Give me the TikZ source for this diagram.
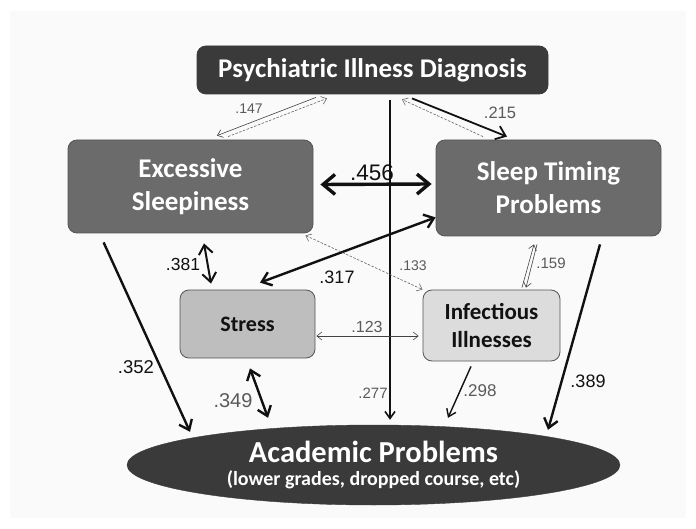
\documentclass[tikz,border=0pt]{standalone}
\usepackage{fontspec}
\setmainfont{Carlito}
\newfontfamily\numfont{Liberation Sans}
\usetikzlibrary{arrows.meta,calc,shapes.geometric}
\definecolor{ink}{HTML}{111111}
\definecolor{panel}{HTML}{FAFAFA}
\definecolor{darkbox}{HTML}{3A3A3A}
\definecolor{midbox}{HTML}{6B6B6B}
\definecolor{lightbox}{HTML}{BEBEBE}
\definecolor{paleb}{HTML}{DCDCDC}
\definecolor{rim}{HTML}{555555}
\definecolor{numgray}{HTML}{5A5A5A}
\tikzset{
  box/.style={draw=rim,line width=0.8pt,rounded corners=9pt,align=center,inner sep=0pt},
  topbox/.style={box,fill=darkbox,draw=darkbox,text=white,font=\fontsize{27}{30}\selectfont\bfseries},
  bigbox/.style={box,fill=midbox,text=white,font=\fontsize{27}{33}\selectfont\bfseries},
  smallbox/.style={box,fill=lightbox,text=ink,font=\fontsize{22}{28}\selectfont\bfseries},
  paleboxs/.style={smallbox,fill=paleb,font=\fontsize{23}{28}\selectfont\bfseries},
  outcome/.style={ellipse,fill=darkbox,draw=darkbox,text=white,align=center,inner sep=0pt},
  heavy/.style={line width=2.4pt,draw=ink,-{Straight Barb[length=9pt,width=14pt]}},
  heavyboth/.style={heavy,{Straight Barb[length=9pt,width=14pt]}-{Straight Barb[length=9pt,width=14pt]}},
  medium/.style={line width=1.4pt,draw=ink,-{Straight Barb[length=7pt,width=10pt]}},
  thin/.style={line width=0.6pt,draw=ink!80,-{Straight Barb[length=5pt,width=8pt]}},
  thinboth/.style={thin,{Straight Barb[length=5pt,width=8pt]}-{Straight Barb[length=5pt,width=8pt]}},
  faint/.style={thin,dashed,dash pattern=on 2.5pt off 1.5pt,draw=ink!65},
  faintboth/.style={thinboth,dashed,dash pattern=on 2.5pt off 1.5pt,draw=ink!65},
  bignum/.style={font=\numfont\fontsize{18}{20}\selectfont,text=ink},
  graynum/.style={font=\numfont\fontsize{16}{18}\selectfont,text=numgray}
}
\begin{document}
\begin{tikzpicture}[x=1pt,y=-1pt]
  \useasboundingbox (0,0) rectangle (696,529);
  \fill[panel] (10,11) rectangle (686,518);

  % boxes
  \node[topbox,minimum width=351pt,minimum height=48pt] (psych) at (372.5,70) {Psychiatric Illness Diagnosis};
  \node[bigbox,minimum width=245pt,minimum height=93pt] (sleepy) at (190.5,186.5) {Excessive\\Sleepiness};
  \node[bigbox,minimum width=225pt,minimum height=96pt] (timing) at (548.5,188) {Sleep Timing\\Problems};
  \node[smallbox,minimum width=135pt,minimum height=68pt] (stress) at (247.5,324) {Stress};
  \node[paleboxs,minimum width=137pt,minimum height=71pt] (infect) at (491.5,325.5) {Infectious\\Illnesses};
  \node[outcome,minimum width=493pt,minimum height=80pt] (academic) at (373.5,465)
    {{\fontsize{30.5}{32}\selectfont\bfseries Academic Problems}\\[6pt]{\fontsize{20}{22}\selectfont\bfseries (lower grades, dropped course, etc)}};

  % links to the diagnosis
  \draw[thin] ($(psych.south)+(-56.5,3)$) -- ($(sleepy.north)+(26.5,-4)$);
  \draw[faint] ($(sleepy.north)+(37.5,-3)$) -- ($(psych.south)+(-45.5,4)$);
  \draw[heavy,line width=1.8pt] ($(psych.south)+(39.5,4)$) -- ($(timing.north)+(-41.5,-3)$);
  \draw[faint] ($(timing.north)+(-65.5,-3)$) -- ($(psych.south)+(29.5,5)$);
  \draw[medium,line width=1.6pt] ($(psych.south)+(17.5,6)$) -- ($(academic.north)+(16.5,-5)$);

  % links between the middle boxes
  \draw[heavyboth,line width=3.4pt,{Straight Barb[length=12pt,width=20pt]}-{Straight Barb[length=12pt,width=20pt]}]
    ($(sleepy.east)+(7,-2)$) -- ($(timing.west)+(-4,-4)$);
  \draw[heavyboth,line width=2pt] ($(sleepy.south)+(13.5,10)$) -- ($(stress.north)+(-36.5,-6)$);
  \draw[heavyboth] ($(stress.north)+(12.5,-7)$) -- ($(timing.south west)+(0,-19)$);
  \draw[faintboth] ($(sleepy.south east)+(-8,2)$) -- ($(infect.north west)+(0,0)$);
  \draw[thin] ($(infect.north)+(30.5,-2)$) -- ($(timing.south)+(-14.5,8)$);
  \draw[thin] ($(timing.south)+(-11.5,8)$) -- ($(infect.north)+(34.5,-2)$);
  \draw[thinboth] ($(stress.east)+(1,12)$) -- ($(infect.west)+(-4,10.5)$);

  % links to the outcome
  \draw[heavy] ($(sleepy.south west)+(36,9)$) -- ($(academic.north)+(-183.5,7)$);
  \draw[heavyboth] ($(stress.south)+(2.5,10)$) -- ($(academic.north)+(-105.5,-7)$);
  \draw[medium] ($(infect.south)+(-20.5,5)$) -- ($(academic.north)+(74.5,-7)$);
  \draw[heavy] ($(timing.south)+(51.5,8)$) -- ($(academic.north)+(174.5,5)$);

  % path coefficients
  \node[graynum,font=\numfont\fontsize{14}{16}\selectfont] (n147) at (249,109) {.147};
  \node[graynum,font=\numfont\fontsize{16.5}{18}\selectfont] (n215) at (500,113) {.215};
  \node[bignum,font=\numfont\fontsize{22.5}{25}\selectfont] (n456) at (372,173) {.456};
  \node[bignum,font=\numfont\fontsize{17.5}{20}\selectfont] (n381) at (183,264) {.381};
  \node[bignum] (n317) at (337,277) {.317};
  \node[graynum,font=\numfont\fontsize{14}{16}\selectfont] (n133) at (413,266) {.133};
  \node[graynum,font=\numfont\fontsize{15}{17}\selectfont] (n159) at (551,263) {.159};
  \node[graynum] (n123) at (367,327) {.123};
  \node[bignum,font=\numfont\fontsize{18.5}{20}\selectfont] (n352) at (136,367) {.352};
  \node[graynum,font=\numfont\fontsize{20}{22}\selectfont] (n349) at (233,401) {.349};
  \node[graynum,font=\numfont\fontsize{15}{17}\selectfont] (n277) at (373,393) {.277};
  \node[graynum,font=\numfont\fontsize{17}{19}\selectfont] (n298) at (480,391) {.298};
  \node[bignum] (n389) at (588,381) {.389};
\end{tikzpicture}
\end{document}
